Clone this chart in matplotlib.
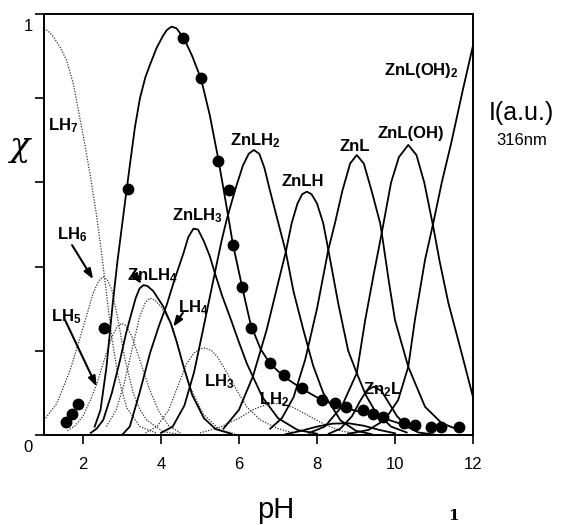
import matplotlib
matplotlib.use("Agg")
import matplotlib.pyplot as plt
from matplotlib.transforms import ScaledTranslation

plt.rcParams['font.family'] = ['Liberation Sans', 'DejaVu Sans']
plt.rcParams['mathtext.default'] = 'regular'

#% free ligand species (dotted)
ph_lh7 = [1.0, 1.12, 1.24, 1.42, 1.58, 1.75, 1.88, 2.01, 2.18, 2.35, 2.48, 2.61, 2.74, 2.9, 3.12, 3.46, 3.9]
lh7 = [0.966, 0.958, 0.946, 0.92, 0.89, 0.835, 0.772, 0.709, 0.62, 0.52, 0.43, 0.33, 0.23, 0.14, 0.065, 0.02, 0.004]

ph_lh6 = [1.0, 1.33, 1.67, 2.01, 2.26, 2.4, 2.52, 2.63, 2.74, 2.9, 3.08, 3.29, 3.46, 3.63, 4.05, 4.5]
lh6 = [0.035, 0.075, 0.154, 0.257, 0.337, 0.366, 0.376, 0.368, 0.344, 0.273, 0.178, 0.099, 0.06, 0.036, 0.008, 0.001]

ph_lh5 = [1.6, 1.8, 2.0, 2.2, 2.35, 2.55, 2.75, 2.88, 2.99, 3.1, 3.25, 3.45, 3.7, 3.95, 4.2, 4.5]
lh5 = [0.01, 0.022, 0.045, 0.085, 0.12, 0.18, 0.235, 0.258, 0.265, 0.26, 0.235, 0.18, 0.11, 0.055, 0.022, 0.005]

ph_lh4 = [2.6, 2.85, 3.05, 3.25, 3.45, 3.6, 3.72, 3.85, 4.0, 4.3, 4.49, 4.74, 5.08, 5.51, 5.9]
lh4 = [0.02, 0.06, 0.12, 0.2, 0.28, 0.315, 0.325, 0.32, 0.305, 0.257, 0.194, 0.115, 0.05, 0.012, 0.003]

ph_lh3 = [3.6, 3.9, 4.2, 4.49, 4.66, 4.85, 5.0, 5.13, 5.3, 5.45, 5.6, 5.94, 6.2, 6.54, 6.97, 7.4]
lh3 = [0.005, 0.02, 0.06, 0.13, 0.17, 0.195, 0.204, 0.207, 0.2, 0.185, 0.162, 0.107, 0.067, 0.036, 0.016, 0.005]

ph_lh2 = [5.0, 5.5, 6.0, 6.4, 6.7, 6.9, 7.1, 7.4, 7.8, 8.2, 8.6, 9.0]
lh2 = [0.005, 0.018, 0.04, 0.062, 0.072, 0.075, 0.074, 0.065, 0.045, 0.025, 0.01, 0.003]

#% zinc complexes (solid)
ph_znlh4 = [2.2, 2.35, 2.52, 2.74, 2.95, 3.1, 3.2, 3.35, 3.45, 3.55, 3.65, 3.8, 4.06, 4.25, 4.4, 4.57, 4.8, 5.1, 5.4, 5.8]
znlh4 = [0.005, 0.015, 0.036, 0.1, 0.178, 0.24, 0.275, 0.325, 0.348, 0.356, 0.354, 0.342, 0.305, 0.265, 0.222, 0.165, 0.095, 0.04, 0.014, 0.003]

ph_znlh3 = [3.0, 3.2, 3.45, 3.72, 3.95, 4.15, 4.35, 4.57, 4.7, 4.83, 4.95, 5.1, 5.25, 5.38, 5.57, 5.77, 6.0, 6.2, 6.6, 7.0, 7.5, 8.0]
znlh3 = [0.0, 0.02, 0.1, 0.195, 0.26, 0.31, 0.37, 0.43, 0.47, 0.49, 0.488, 0.46, 0.425, 0.385, 0.33, 0.28, 0.22, 0.17, 0.09, 0.04, 0.012, 0.003]

ph_znlh2 = [4.0, 4.3, 4.6, 4.85, 5.1, 5.38, 5.55, 5.68, 5.9, 6.1, 6.25, 6.38, 6.52, 6.65, 6.79, 7.01, 7.2, 7.4, 7.65, 7.9, 8.16, 8.6, 9.0, 9.4]
znlh2 = [0.005, 0.02, 0.07, 0.15, 0.26, 0.385, 0.46, 0.51, 0.582, 0.64, 0.668, 0.677, 0.668, 0.635, 0.582, 0.503, 0.435, 0.34, 0.25, 0.165, 0.1, 0.035, 0.01, 0.002]

ph_znlh = [5.6, 6.0, 6.36, 6.71, 7.0, 7.2, 7.35, 7.5, 7.62, 7.74, 7.86, 8.0, 8.16, 8.29, 8.42, 8.55, 8.8, 9.02, 9.25, 9.5, 9.9, 10.3]
znlh = [0.015, 0.06, 0.14, 0.25, 0.36, 0.435, 0.503, 0.55, 0.572, 0.578, 0.572, 0.55, 0.503, 0.44, 0.375, 0.31, 0.2, 0.147, 0.095, 0.055, 0.02, 0.006]

ph_znl = [6.8, 7.1, 7.4, 7.7, 8.0, 8.29, 8.46, 8.65, 8.85, 9.02, 9.2, 9.4, 9.62, 9.66, 9.85, 10.0, 10.34, 10.77, 11.2, 11.7]
znl = [0.015, 0.04, 0.09, 0.18, 0.3, 0.44, 0.503, 0.58, 0.645, 0.665, 0.645, 0.58, 0.503, 0.48, 0.36, 0.273, 0.162, 0.067, 0.028, 0.01]

ph_znloh = [7.8, 8.2, 8.63, 9.02, 9.23, 9.45, 9.66, 9.9, 10.1, 10.34, 10.55, 10.75, 10.98, 11.15, 11.37, 11.71, 12.0]
znloh = [0.005, 0.02, 0.067, 0.147, 0.27, 0.38, 0.48, 0.6, 0.66, 0.689, 0.665, 0.6, 0.495, 0.41, 0.313, 0.194, 0.09]

ph_znloh2 = [8.8, 9.32, 9.74, 10.08, 10.34, 10.51, 10.77, 10.98, 11.2, 11.44, 11.74, 12.0]
znloh2 = [0.003, 0.012, 0.036, 0.083, 0.162, 0.273, 0.416, 0.503, 0.6, 0.693, 0.82, 0.925]

ph_zn2l = [8.3, 8.6, 8.9, 9.1, 9.27, 9.45, 9.65, 9.85, 10.05, 10.3, 10.6, 11.0]
zn2l = [0.003, 0.015, 0.045, 0.08, 0.105, 0.115, 0.105, 0.075, 0.045, 0.02, 0.006, 0.001]

ph_minor = [7.2, 7.6, 8.0, 8.4, 8.8, 9.2, 9.6, 10.0]
minor = [0.002, 0.01, 0.02, 0.027, 0.028, 0.022, 0.012, 0.004]

#% fluorescence intensity at 316 nm (dots) and its fitted line
ph_dots = [1.56, 1.73, 1.88, 2.55, 3.16, 4.57, 5.03, 5.47, 5.75, 5.84, 6.08, 6.30, 6.79, 7.16,
           7.61, 8.12, 8.46, 8.74, 9.17, 9.44, 9.70, 10.23, 10.51, 10.92, 11.18, 11.64]
i316 = [0.032, 0.050, 0.074, 0.253, 0.584, 0.942, 0.849, 0.651, 0.582, 0.451, 0.352, 0.255, 0.170, 0.142,
        0.112, 0.083, 0.075, 0.067, 0.059, 0.051, 0.042, 0.028, 0.024, 0.020, 0.018, 0.018]

ph_fit = [2.3, 2.45, 2.6, 2.76, 2.88, 2.99, 3.08, 3.2, 3.33, 3.46, 3.6, 3.72, 3.89, 4.05, 4.15, 4.27, 4.4,
          4.6, 4.8, 5.03, 5.25, 5.47, 5.62, 5.75, 5.84, 6.08, 6.3, 6.55, 6.79, 7.16, 7.61, 8.12, 8.6,
          9.2, 9.7, 10.3]
i_fit = [0.02, 0.06, 0.16, 0.31, 0.41, 0.49, 0.555, 0.64, 0.73, 0.8, 0.85, 0.88, 0.92, 0.948, 0.962, 0.97, 0.966,
         0.94, 0.9, 0.845, 0.76, 0.655, 0.575, 0.505, 0.455, 0.352, 0.262, 0.205, 0.17, 0.138, 0.11, 0.083, 0.068,
         0.052, 0.04, 0.022]

xticks = [2, 4, 6, 8, 10, 12]
yticks = [0, 0.2, 0.4, 0.6, 0.8, 1.0]
ytick_labels = ['0', '', '', '', '', '1']

fig = plt.figure(figsize=(5.61, 5.25), dpi=100)
ax = fig.add_axes([44/561, 90/525, 429/561, 421/525])

dot = dict(color='0.2', lw=0.9, ls=(0, (1, 1.2)))
for x, y in [(ph_lh7, lh7), (ph_lh6, lh6), (ph_lh5, lh5), (ph_lh4, lh4), (ph_lh3, lh3), (ph_lh2, lh2)]:
    ax.plot(x, y, **dot)

sol = dict(color='k', lw=1.3)
for x, y in [(ph_znlh4, znlh4), (ph_znlh3, znlh3), (ph_znlh2, znlh2), (ph_znlh, znlh), (ph_znl, znl),
             (ph_znloh, znloh), (ph_znloh2, znloh2), (ph_zn2l, zn2l), (ph_minor, minor), (ph_fit, i_fit)]:
    ax.plot(x, y, **sol)

ax.plot(ph_dots, i316, 'o', color='k', ms=7.5)

ax.set_xlim(1, 12)
ax.set_ylim(0, 1)
ax.set_xticks(xticks)
ax.set_yticks(yticks)
ax.set_yticklabels(ytick_labels)
ax.tick_params(direction='out', length=6.5, width=1.2, labelsize=12)
ax.tick_params(axis='x', pad=9)
ax.tick_params(axis='y', pad=1.5)
for lbl in ax.get_yticklabels():
    lbl.set_transform(lbl.get_transform() + ScaledTranslation(0, -0.11, fig.dpi_scale_trans))
for s in ax.spines.values():
    s.set_linewidth(1.4)

# species labels
lab = dict(fontsize=12, fontweight='bold', ha='center', va='center')
ax.text(1.49, 0.734, 'LH$_7$', **lab)
ax.text(1.72, 0.477, 'LH$_6$', **lab)
ax.text(1.56, 0.28, 'LH$_5$', **lab)
ax.text(3.77, 0.378, 'ZnLH$_4$', **lab)
ax.text(4.82, 0.302, 'LH$_4$', **lab)
ax.text(4.92, 0.52, 'ZnLH$_3$', **lab)
ax.text(5.49, 0.126, 'LH$_3$', **lab)
ax.text(6.9, 0.083, 'LH$_2$', **lab)
ax.text(6.41, 0.698, 'ZnLH$_2$', **lab)
ax.text(7.64, 0.603, 'ZnLH', **lab)
ax.text(8.97, 0.686, 'ZnL', **lab)
ax.text(10.41, 0.715, 'ZnL(OH)', **lab)
ax.text(10.67, 0.865, 'ZnL(OH)$_2$', **lab)
ax.text(9.69, 0.107, 'Zn$_2$L', **lab)

arr = dict(arrowstyle='-|>,head_length=0.6,head_width=0.22', lw=1.5, color='k', shrinkA=0, shrinkB=0)
ax.annotate('', xy=(2.26, 0.37), xytext=(1.72, 0.451), arrowprops=arr)
ax.annotate('', xy=(3.5, 0.359), xytext=(3.29, 0.384), arrowprops=arr)
ax.annotate('', xy=(2.35, 0.115), xytext=(1.54, 0.273), arrowprops=arr)
ax.annotate('', xy=(4.31, 0.257), xytext=(4.56, 0.29), arrowprops=arr)

ax.text(-0.056, 0.684, 'χ', transform=ax.transAxes, fontsize=24, family='DejaVu Serif',
        style='italic', ha='center', va='center')
ax.text(0.541, -0.178, 'pH', transform=ax.transAxes, fontsize=21, ha='center', va='center')
ax.text(1.112, 0.765, 'I(a.u.)', transform=ax.transAxes, fontsize=18, ha='center', va='center')
ax.text(1.114, 0.699, '316nm', transform=ax.transAxes, fontsize=12, ha='center', va='center')
fig.text(453/561, 0.004, '1', fontsize=11, fontweight='bold', family='DejaVu Serif', ha='center', va='bottom')

fig.savefig('out.png', dpi=100)
